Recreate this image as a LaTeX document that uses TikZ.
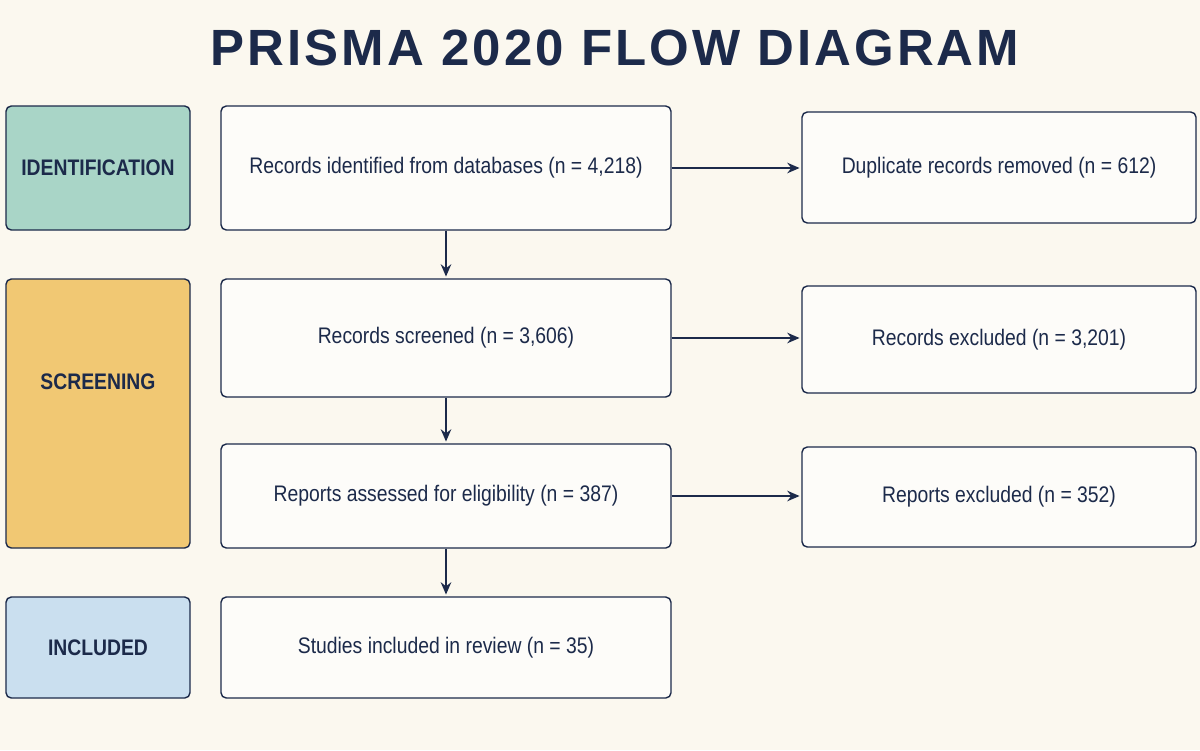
\documentclass[tikz,border=0pt]{standalone}
\usepackage{fontspec}
\setmainfont{Liberation Sans}[FakeStretch=0.86]
\newfontfamily\titlefont{Liberation Sans}[LetterSpace=6]
\usetikzlibrary{positioning,arrows.meta}
\definecolor{navy}{HTML}{1C2A4A}
\definecolor{bgcream}{HTML}{FBF8EF}
\definecolor{idfill}{HTML}{A9D5C7}
\definecolor{scfill}{HTML}{F1C873}
\definecolor{infill}{HTML}{CADFEF}
\tikzset{
  stage/.style={draw=navy,line width=0.8pt,rounded corners=3pt,minimum width=3.68cm,
    text=navy,font=\bfseries\fontsize{12.8}{14}\selectfont},
  stepbox/.style={draw=navy,line width=0.8pt,rounded corners=3pt,minimum width=9cm,
    text=navy,font=\fontsize{12.8}{14}\selectfont,fill=white!60!bgcream},
  side/.style={stepbox,minimum width=7.88cm},
  flow/.style={-{Stealth[length=7pt,width=6pt]},draw=navy,line width=0.9pt,shorten >=1pt}
}
\begin{document}
\begin{tikzpicture}
  \fill[bgcream] (0,0) rectangle (24,-15);
  \useasboundingbox (0,0) rectangle (24,-15);
  \node[text=navy,font=\titlefont\bfseries\fontsize{29}{32}\selectfont] (title) at (12.3,-0.96) {PRISMA 2020 FLOW DIAGRAM};
  % stage labels
  \node[stage,fill=idfill,minimum height=2.48cm] (ident) at (1.96,-3.36) {IDENTIFICATION};
  \node[stage,fill=scfill,minimum height=5.38cm] (screen) at (1.96,-8.27) {};
  \node[text=navy,font=\bfseries\fontsize{12.8}{14}\selectfont] (screenlbl) at (1.96,-7.64) {SCREENING};
  \node[stage,fill=infill,minimum height=2.02cm] (incl) at (1.96,-12.95) {INCLUDED};
  % main flow
  \node[stepbox,minimum height=2.48cm] (records) at (8.92,-3.36) {Records identified from databases (n = 4,218)};
  \node[stepbox,minimum height=2.36cm] (screened) at (8.92,-6.76) {Records screened (n = 3,606)};
  \node[stepbox,minimum height=2.08cm] (reports) at (8.92,-9.92) {Reports assessed for eligibility (n = 387)};
  \node[stepbox,minimum height=2.02cm] (studies) at (8.92,-12.95) {Studies included in review (n = 35)};
  % exclusions
  \node[side,minimum height=2.22cm] (dupl) at (19.98,-3.35) {Duplicate records removed (n = 612)};
  \node[side,minimum height=2.14cm] (recexcl) at (19.98,-6.79) {Records excluded (n = 3,201)};
  \node[side,minimum height=2.0cm] (repexcl) at (19.98,-9.94) {Reports excluded (n = 352)};
  % arrows
  \draw[flow] (records.south) -- (screened.north);
  \draw[flow] (screened.south) -- (reports.north);
  \draw[flow] (reports.south) -- (studies.north);
  \draw[flow] (records.east) -- (records.east -| dupl.west);
  \draw[flow] (screened.east) -- (screened.east -| recexcl.west);
  \draw[flow] (reports.east) -- (reports.east -| repexcl.west);
\end{tikzpicture}
\end{document}
